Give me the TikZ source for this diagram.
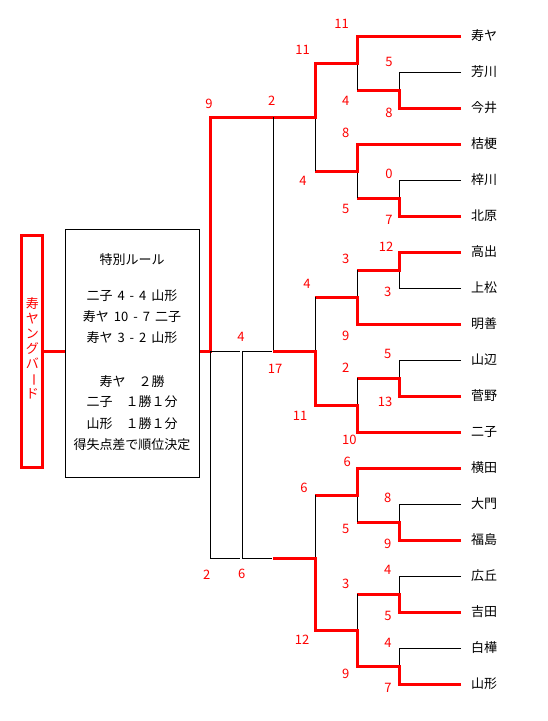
\documentclass[tikz,border=0pt]{standalone}
\usepackage{fontspec}
\setmainfont{Noto Sans CJK JP}
\begin{document}
\begin{tikzpicture}[x=1pt,y=-1pt,
  win/.style={red,line width=3pt},
  lose/.style={black,line width=1pt},
  team/.style={anchor=west,inner sep=0pt,font=\fontsize{13}{15}\selectfont},
  sc/.style={red,inner sep=0pt,font=\fontsize{13}{15}\selectfont},
  ruletext/.style={inner sep=0pt,font=\fontsize{13}{15}\selectfont}]
\useasboundingbox (0,0) rectangle (547,721);

% teams
\foreach \n/\y/\t in {1/36/寿ヤ,2/72/芳川,3/108/今井,4/144/桔梗,5/180/梓川,6/216/北原,
  7/252/高出,8/288/上松,9/324/明善,10/360/山辺,11/396/菅野,12/432/二子,
  13/468/横田,14/504/大門,15/540/福島,16/576/広丘,17/612/吉田,18/648/白樺,19/684/山形}{
  \node[team] (t\n) at (471,\y) {\t};
  \coordinate (e\n) at (461,\y);
}

% junction coordinates
\coordinate (a1) at (399,90);  \coordinate (a2) at (399,198);
\coordinate (a3) at (399,270); \coordinate (a4) at (399,378);
\coordinate (a5) at (399,522); \coordinate (a6) at (399,594);
\coordinate (a7) at (399,666);
\coordinate (b1) at (357,63);  \coordinate (b2) at (357,171);
\coordinate (b3) at (357,297); \coordinate (b4) at (357,405);
\coordinate (b5) at (357,495); \coordinate (b6) at (357,630);
\coordinate (c1) at (315,117); \coordinate (c2) at (315,351);
\coordinate (c3) at (315,558);

% left boxes
\node[draw=red,line width=3pt,minimum width=20.7pt,minimum height=231.7pt,inner sep=0pt] (title) at (32.3,351.3) {};
\node[red,inner sep=0pt,align=center,font=\fontsize{13}{15}\selectfont] (titletext) at (32.3,348)
  {寿\\ヤ\\ン\\グ\\バ\\\makebox[1em]{\rotatebox[origin=c]{-90}{ー}}\\ド};
\node[draw,line width=1pt,minimum width=134pt,minimum height=248pt,inner sep=0pt] (box) at (132.3,353.3) {};
\draw[win] (title.east |- 0,351) -- (box.west |- 0,351);

\newcommand{\gp}{\hspace{5pt}}
\node[ruletext] (r1) at (132,260) {特別ルール};
\node[ruletext] (r2) at (132,296) {二子\gp 4\gp -\gp 4\gp 山形};
\node[ruletext] (r3) at (132,316.7) {寿ヤ\gp 10\gp -\gp 7\gp 二子};
\node[ruletext] (r4) at (132,337.3) {寿ヤ\gp 3\gp -\gp 2\gp 山形};
\node[ruletext] (r5) at (132,381.7) {寿ヤ　２勝};
\node[ruletext] (r6) at (132,401.7) {二子　１勝１分};
\node[ruletext] (r7) at (132,423.3) {山形　１勝１分};
\node[ruletext] (r8) at (132,445) {得失点差で順位決定};

% group A
\draw[lose] (e2) -| (a1);
\draw[win] (e3) -| (a1) -- (a1 -| b1);
\draw[lose] (a1 -| b1) -- (b1);
\draw[lose] (e5) -| (a2);
\draw[win] (e6) -| (a2) -- (a2 -| b2);
\draw[lose] (a2 -| b2) -- (b2);
\draw[win] (e4) -| (b2) -- (b2 -| c1);
\draw[lose] (b2 -| c1) -- (c1);
\draw[win] (e1) -| (b1) -- (b1 -| c1) -- (c1) -- (210,117) -- (210,351) -- (box.east |- 0,351);
\draw[lose] (273,117) -- (273,351);

% group B
\draw[lose] (e8) -| (a3);
\draw[win] (e7) -| (a3) -- (a3 -| b3);
\draw[lose] (a3 -| b3) -- (b3);
\draw[win] (e9) -| (b3) -- (b3 -| c2);
\draw[lose] (b3 -| c2) -- (c2);
\draw[lose] (e10) -| (a4);
\draw[win] (e11) -| (a4) -- (a4 -| b4);
\draw[lose] (a4 -| b4) -- (b4);
\draw[win] (e12) -| (b4) -- (b4 -| c2) -- (c2) -- (273,351);

% group C
\draw[lose] (e14) -| (a5);
\draw[win] (e15) -| (a5) -- (a5 -| b5);
\draw[lose] (a5 -| b5) -- (b5);
\draw[win] (e13) -| (b5) -- (b5 -| c3);
\draw[lose] (b5 -| c3) -- (c3);
\draw[lose] (e16) -| (a6);
\draw[win] (e17) -| (a6) -- (a6 -| b6);
\draw[lose] (a6 -| b6) -- (b6);
\draw[lose] (e18) -| (a7);
\draw[win] (e19) -| (a7) -- (a7 -| b6) -- (b6) -- (b6 -| c3) -- (c3) -- (273,558);

% round robin
\draw[lose] (210.7,351) -- (240,351);
\draw[lose] (242.3,351) -- (272,351);
\draw[lose] (210.7,351) -- (210.7,558) -- (240,558);
\draw[lose] (242.3,351) -- (242.3,558) -- (272,558);

% scores
\foreach \x/\y/\s [count=\i] in {
  341.7/24/11, 302.7/50/11, 271.7/101/2, 209/104/9, 345.7/101/4, 345.7/133/8,
  303/181/4, 345.7/209/5, 389/61.7/5, 389/112.7/8, 389/174/0, 389/220/7,
  386/246.7/12, 387.7/292.3/3, 345.7/259.3/3, 345.7/335.7/9, 307/284.3/4,
  387.7/354.3/5, 385/401.7/13, 345.7/367.3/2, 349.3/440/10, 300/415.7/11,
  275/369.3/17, 241/336.7/4,
  347.3/462.3/6, 304/487.7/6, 387.7/498.3/8, 387.7/544.3/9, 345.7/529.3/5,
  387.7/570/4, 388/616/5, 345.7/584.3/3, 302/640/12, 388/642.7/4, 388/688.3/7,
  345.7/674.3/9, 206.7/574.3/2, 241.7/574.3/6}{
  \node[sc] (s\i) at (\x,\y) {\s};
}
\end{tikzpicture}
\end{document}
